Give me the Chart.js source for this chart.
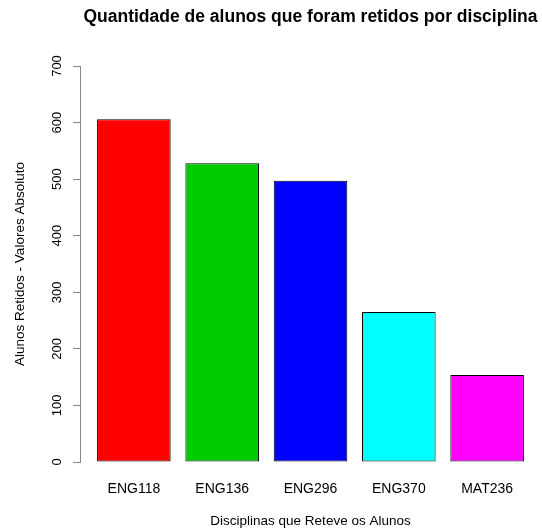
<!DOCTYPE html>
<html>
<head>
<meta charset="utf-8">
<script src="https://cdn.jsdelivr.net/npm/chart.js@4.4.1/dist/chart.umd.min.js"></script>
<style>
  html, body { margin: 0; padding: 0; background: #ffffff; }
  #wrap { width: 542px; height: 532px; }
</style>
</head>
<body>
<div id="wrap"><canvas id="grafico"></canvas></div>
<script>
// disciplinas e quantidade de alunos retidos
var disciplinas = ["ENG118", "ENG136", "ENG296", "ENG370", "MAT236"];
var retidos = [606, 528, 497, 265, 154];
var cores = ["#FF0000", "#00CD00", "#0000FF", "#00FFFF", "#FF00FF"];
var ticks_y = [0, 100, 200, 300, 400, 500, 600, 700];

// posicoes das barras como no barplot do R (largura 1, espaco 0.2)
var espaco = 0.2;
var centros = disciplinas.map(function(d, i) {
    return espaco + i * (1 + espaco) + 0.5;
});
var x_ini = espaco;
var x_fim = disciplinas.length * (1 + espaco);
var ext = (x_fim - x_ini) * 0.04;

var pontos = retidos.map(function(v, i) {
    return { x: centros[i], y: v };
});

var fonte = "'Liberation Sans', Arial, Helvetica, sans-serif";

const ctx = document.getElementById("grafico").getContext("2d");
const grafico = new Chart(ctx, {
    type: "bar",
    data: {
        datasets: [{
            data: pontos,
            backgroundColor: cores,
            borderColor: "#000000",
            borderWidth: 1,
            borderSkipped: false,
            categoryPercentage: 1 / (1 + espaco),
            barPercentage: 1,
        }],
    },
    options: {
        responsive: true,
        maintainAspectRatio: false,
        animation: false,
        layout: {
            padding: { left: 0, right: 1, top: 0, bottom: 0 },
        },
        plugins: {
            legend: { display: false },
            tooltip: { enabled: false },
            title: {
                display: true,
                text: "Quantidade de alunos que foram retidos por disciplina",
                fullSize: false,
                color: "#000000",
                font: { family: fonte, size: 17.5, weight: "bold" },
                padding: { top: 6.5, bottom: 38.5 },
            },
        },
        scales: {
            x: {
                type: "linear",
                offset: false,
                min: x_ini - ext,
                max: x_fim + ext,
                grid: { display: false, drawTicks: false, offset: false },
                border: { display: false },
                afterBuildTicks: function(scale) {
                    scale.ticks = centros.map(function(c) { return { value: c }; });
                },
                afterFit: function(scale) {
                    scale.height = 70;
                },
                ticks: {
                    padding: 19,
                    maxRotation: 0,
                    color: "#000000",
                    font: { family: fonte, size: 14 },
                    callback: function(valor, indice) {
                        return disciplinas[indice];
                    },
                },
                title: {
                    display: true,
                    text: "Disciplinas que Reteve os Alunos",
                    color: "#000000",
                    font: { family: fonte, size: 13.5 },
                    padding: { top: 0, bottom: 3 },
                },
            },
            y: {
                min: 0,
                max: 700,
                afterBuildTicks: function(scale) {
                    scale.ticks = ticks_y.map(function(t) { return { value: t }; });
                },
                afterFit: function(scale) {
                    scale.width = 80;
                },
                grid: {
                    drawOnChartArea: false,
                    drawTicks: true,
                    tickLength: 7,
                    color: "#888888",
                },
                border: { display: true, color: "#888888" },
                ticks: {
                    minRotation: 90,
                    maxRotation: 90,
                    crossAlign: "center",
                    padding: 5,
                    color: "#000000",
                    font: { family: fonte, size: 13 },
                },
                title: {
                    display: true,
                    text: "Alunos Retidos - Valores Absoluto",
                    color: "#000000",
                    font: { family: fonte, size: 13.5 },
                    padding: { top: 12, bottom: 0 },
                },
            },
        },
    },
});
</script>
</body>
</html>
